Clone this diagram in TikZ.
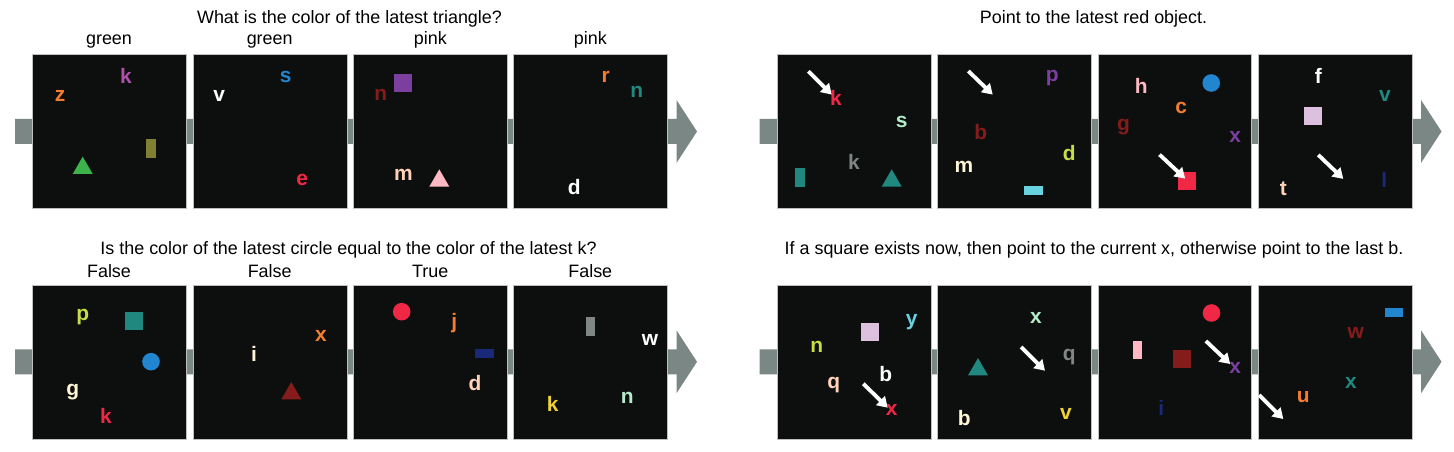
\documentclass[tikz,border=0pt]{standalone}
\usepackage{fontspec}
\setmainfont{Liberation Sans}
\usetikzlibrary{arrows.meta,shapes.geometric}

\definecolor{panelbg}{RGB}{13,15,14}
\definecolor{panelline}{RGB}{190,192,192}
\definecolor{barcol}{RGB}{122,135,133}
\definecolor{cmag}{RGB}{176,80,170}
\definecolor{cgreen}{RGB}{60,180,75}
\definecolor{colive}{RGB}{128,128,50}
\definecolor{cblue}{RGB}{33,133,208}
\definecolor{cred}{RGB}{240,40,70}
\definecolor{corange}{RGB}{245,125,45}
\definecolor{cmaroon}{RGB}{133,28,28}
\definecolor{cpurple}{RGB}{123,63,160}
\definecolor{cpeach}{RGB}{255,210,185}
\definecolor{cpink}{RGB}{255,185,195}
\definecolor{cteal}{RGB}{33,136,128}
\definecolor{cmint}{RGB}{180,235,200}
\definecolor{clime}{RGB}{200,220,70}
\definecolor{ccream}{RGB}{255,245,215}
\definecolor{ccyan}{RGB}{105,210,225}
\definecolor{clav}{RGB}{220,192,222}
\definecolor{cgray}{RGB}{128,133,133}
\definecolor{cnavy}{RGB}{25,40,120}
\definecolor{cyellow}{RGB}{240,210,50}

% timeline arrow behind one row of panels: start x, centre y
\newcommand{\timeline}[2]{%
  \fill[barcol] (#1,#2-12.5) -- (#1+661.5,#2-12.5) -- (#1+661.5,#2-31.5)
    -- (#1+682,#2) -- (#1+661.5,#2+31.5) -- (#1+661.5,#2+12.5) -- (#1,#2+12.5) -- cycle;}

\begin{document}
\begin{tikzpicture}[
  x=0.02cm, y=-0.02cm,
  panel/.style={draw=panelline, fill=panelbg, anchor=north west, minimum size=3.08cm, inner sep=0, line width=0.4pt},
  lett/.style={font=\bfseries\fontsize{11.9}{14}\selectfont, inner sep=0},
  caption/.style={font=\fontsize{10.2}{12}\selectfont, inner sep=0, anchor=base},
  sq/.style={rectangle, inner sep=0, minimum size=0.354cm},
  tallbar/.style={rectangle, inner sep=0, minimum width=0.186cm, minimum height=0.372cm},
  widebar/.style={rectangle, inner sep=0, minimum width=0.372cm, minimum height=0.18cm},
  dot/.style={circle, inner sep=0, minimum size=0.352cm},
  tri/.style={regular polygon, regular polygon sides=3, inner sep=0, minimum size=0.462cm},
  pointer/.style={draw=white, line width=2.2pt, -{Triangle[length=5.8pt,width=7pt]}}
]
\useasboundingbox (0,0) rectangle (1454,452);

% timelines
\timeline{15}{131.5}
\timeline{759.5}{131.5}
\timeline{15}{361.8}
\timeline{759.5}{361.8}

% titles and answers
\node[caption] (q1) at (349.5,23.3) {What is the color of the latest triangle?};
\node[caption] (q2) at (1093.5,23.3) {Point to the latest red object.};
\node[caption] (q3) at (348.5,255) {Is the color of the latest circle equal to the color of the latest k?};
\node[caption] (q4) at (1094,255) {If a square exists now, then point to the current x, otherwise point to the last b.};

\node[caption] (a11) at (109,45) {green};
\node[caption] (a12) at (269.7,45) {green};
\node[caption] (a13) at (430.3,45) {pink};
\node[caption] (a14) at (590.3,45) {pink};
\node[caption] (a31) at (109,278) {False};
\node[caption] (a32) at (269.7,278) {False};
\node[caption] (a33) at (430.3,278) {True};
\node[caption] (a34) at (590.3,278) {False};

% row 1, left
\begin{scope}[shift={(32,54.3)}]
  \node[panel] (tl1) at (0,0) {};
  \node[lett, text=cmag] (tl1k) at (94,22) {k};
  \node[lett, text=corange] (tl1z) at (28,42) {z};
  \node[tri, fill=cgreen] (tl1t) at (50.7,113.9) {};
  \node[tallbar, fill=colive] (tl1r) at (119,94) {};
\end{scope}
\begin{scope}[shift={(192.7,54.3)}]
  \node[panel] (tl2) at (0,0) {};
  \node[lett, text=white] (tl2v) at (26.5,42) {v};
  \node[lett, text=cblue] (tl2s) at (93,22.7) {s};
  \node[lett, text=cred] (tl2e) at (109.6,126) {e};
\end{scope}
\begin{scope}[shift={(353.3,54.3)}]
  \node[panel] (tl3) at (0,0) {};
  \node[lett, text=cmaroon] (tl3n) at (27.4,41) {n};
  \node[sq, fill=cpurple] (tl3s) at (50,28.7) {};
  \node[lett, text=cpeach] (tl3m) at (50,121) {m};
  \node[tri, fill=cpink] (tl3t) at (86,126.6) {};
\end{scope}
\begin{scope}[shift={(513.3,54.3)}]
  \node[panel] (tl4) at (0,0) {};
  \node[lett, text=corange] (tl4r) at (92.4,22.7) {r};
  \node[lett, text=cteal] (tl4n) at (123.4,37.7) {n};
  \node[lett, text=white] (tl4d) at (61,132.7) {d};
\end{scope}

% row 1, right
\begin{scope}[shift={(777,54.3)}]
  \node[panel] (tr1) at (0,0) {};
  \node[lett, text=cred] (tr1k) at (59,43.7) {k};
  \node[lett, text=cmint] (tr1s) at (124.7,67.7) {s};
  \node[lett, text=cgray] (tr1g) at (77,107.7) {k};
  \node[tallbar, fill=cteal] (tr1r) at (23,123.3) {};
  \node[tri, fill=cteal] (tr1t) at (114.7,126.6) {};
  \draw[pointer] (31.3,17) -- (54.7,40.3);
\end{scope}
\begin{scope}[shift={(937.3,54.3)}]
  \node[panel] (tr2) at (0,0) {};
  \node[lett, text=cpurple] (tr2p) at (115,23.3) {p};
  \node[lett, text=cmaroon] (tr2b) at (43.4,77.7) {b};
  \node[lett, text=clime] (tr2d) at (132,98.3) {d};
  \node[lett, text=ccream] (tr2m) at (26.7,112.7) {m};
  \node[widebar, fill=ccyan] (tr2r) at (96,136.7) {};
  \draw[pointer] (31,16.7) -- (55.4,40.3);
\end{scope}
\begin{scope}[shift={(1097.5,54.3)}]
  \node[panel] (tr3) at (0,0) {};
  \node[lett, text=cpink] (tr3h) at (43.7,32) {h};
  \node[dot, fill=cblue] (tr3o) at (113.7,28.7) {};
  \node[lett, text=corange] (tr3c) at (83.7,53.7) {c};
  \node[lett, text=cmaroon] (tr3g) at (26,72.7) {g};
  \node[lett, text=cpurple] (tr3x) at (137.7,82.7) {x};
  \node[sq, fill=cred] (tr3s) at (89.7,127) {};
  \draw[pointer] (62,100.3) -- (87.7,124.3);
\end{scope}
\begin{scope}[shift={(1257.7,54.3)}]
  \node[panel] (tr4) at (0,0) {};
  \node[lett, text=white] (tr4f) at (60.6,22) {f};
  \node[lett, text=cteal] (tr4v) at (127.3,42) {v};
  \node[sq, fill=clav] (tr4s) at (55,61.6) {};
  \node[lett, text=cnavy] (tr4l) at (126.6,125.3) {l};
  \node[lett, text=cpeach] (tr4t) at (25.6,134) {t};
  \draw[pointer] (60.6,100.6) -- (85.6,124.6);
\end{scope}

% row 2, left
\begin{scope}[shift={(32,285)}]
  \node[panel] (bl1) at (0,0) {};
  \node[lett, text=clime] (bl1p) at (50.7,31.7) {p};
  \node[sq, fill=cteal] (bl1s) at (102,35.7) {};
  \node[dot, fill=cblue] (bl1o) at (119,76.7) {};
  \node[lett, text=ccream] (bl1g) at (40.7,106.7) {g};
  \node[lett, text=cred] (bl1k) at (74,131) {k};
\end{scope}
\begin{scope}[shift={(192.7,285)}]
  \node[panel] (bl2) at (0,0) {};
  \node[lett, text=ccream] (bl2i) at (61.3,69.3) {i};
  \node[lett, text=corange] (bl2x) at (128.3,51) {x};
  \node[tri, fill=cmaroon] (bl2t) at (98.6,108.6) {};
\end{scope}
\begin{scope}[shift={(353.3,285)}]
  \node[panel] (bl3) at (0,0) {};
  \node[dot, fill=cred] (bl3o) at (48.4,26.7) {};
  \node[lett, text=corange] (bl3j) at (101,37.7) {j};
  \node[widebar, fill=cnavy] (bl3r) at (131.4,68.3) {};
  \node[lett, text=cpeach] (bl3d) at (121.7,98.3) {d};
\end{scope}
\begin{scope}[shift={(513.3,285)}]
  \node[panel] (bl4) at (0,0) {};
  \node[tallbar, fill=cgray] (bl4r) at (77.4,41.3) {};
  \node[lett, text=white] (bl4w) at (136.7,55) {w};
  \node[lett, text=cyellow] (bl4k) at (39.4,119) {k};
  \node[lett, text=cmint] (bl4n) at (114,112.7) {n};
\end{scope}

% row 2, right
\begin{scope}[shift={(777,285)}]
  \node[panel] (br1) at (0,0) {};
  \node[lett, text=ccyan] (br1y) at (134.7,37.3) {y};
  \node[sq, fill=clav] (br1s) at (92.7,47) {};
  \node[lett, text=clime] (br1n) at (39.7,62) {n};
  \node[lett, text=white] (br1b) at (108.7,89) {b};
  \node[lett, text=cpeach] (br1q) at (56.7,100) {q};
  \node[lett, text=cred] (br1x) at (114.7,125) {x};
  \draw[pointer] (86.3,98.7) -- (110.7,122.7);
\end{scope}
\begin{scope}[shift={(937.3,285)}]
  \node[panel] (br2) at (0,0) {};
  \node[lett, text=cmint] (br2x) at (98.7,32.7) {x};
  \node[tri, fill=cteal] (br2t) at (40.7,84.6) {};
  \node[lett, text=cgray] (br2q) at (132,71.7) {q};
  \node[lett, text=ccream] (br2b) at (27,132.7) {b};
  \node[lett, text=cyellow] (br2v) at (128.7,129.3) {v};
  \draw[pointer] (83.7,62) -- (107.7,85.7);
\end{scope}
\begin{scope}[shift={(1097.5,285)}]
  \node[panel] (br3) at (0,0) {};
  \node[dot, fill=cred] (br3o) at (114,28) {};
  \node[tallbar, fill=cpink] (br3r) at (40,65) {};
  \node[sq, fill=cmaroon] (br3s) at (84.7,74.3) {};
  \node[lett, text=cpurple] (br3x) at (137.7,83.3) {x};
  \node[lett, text=cnavy] (br3i) at (63.7,123.3) {i};
  \draw[pointer] (108.4,56) -- (132.7,79);
\end{scope}
\begin{scope}[shift={(1257.7,285)}]
  \node[panel] (br4) at (0,0) {};
  \node[widebar, fill=cblue] (br4r) at (136.3,27.7) {};
  \node[lett, text=cmaroon] (br4w) at (98,47.7) {w};
  \node[lett, text=cteal] (br4x) at (93.3,98.3) {x};
  \node[lett, text=corange] (br4u) at (45.6,111.7) {u};
  \draw[pointer] (1.3,110) -- (25.6,134);
\end{scope}
\end{tikzpicture}
\end{document}
